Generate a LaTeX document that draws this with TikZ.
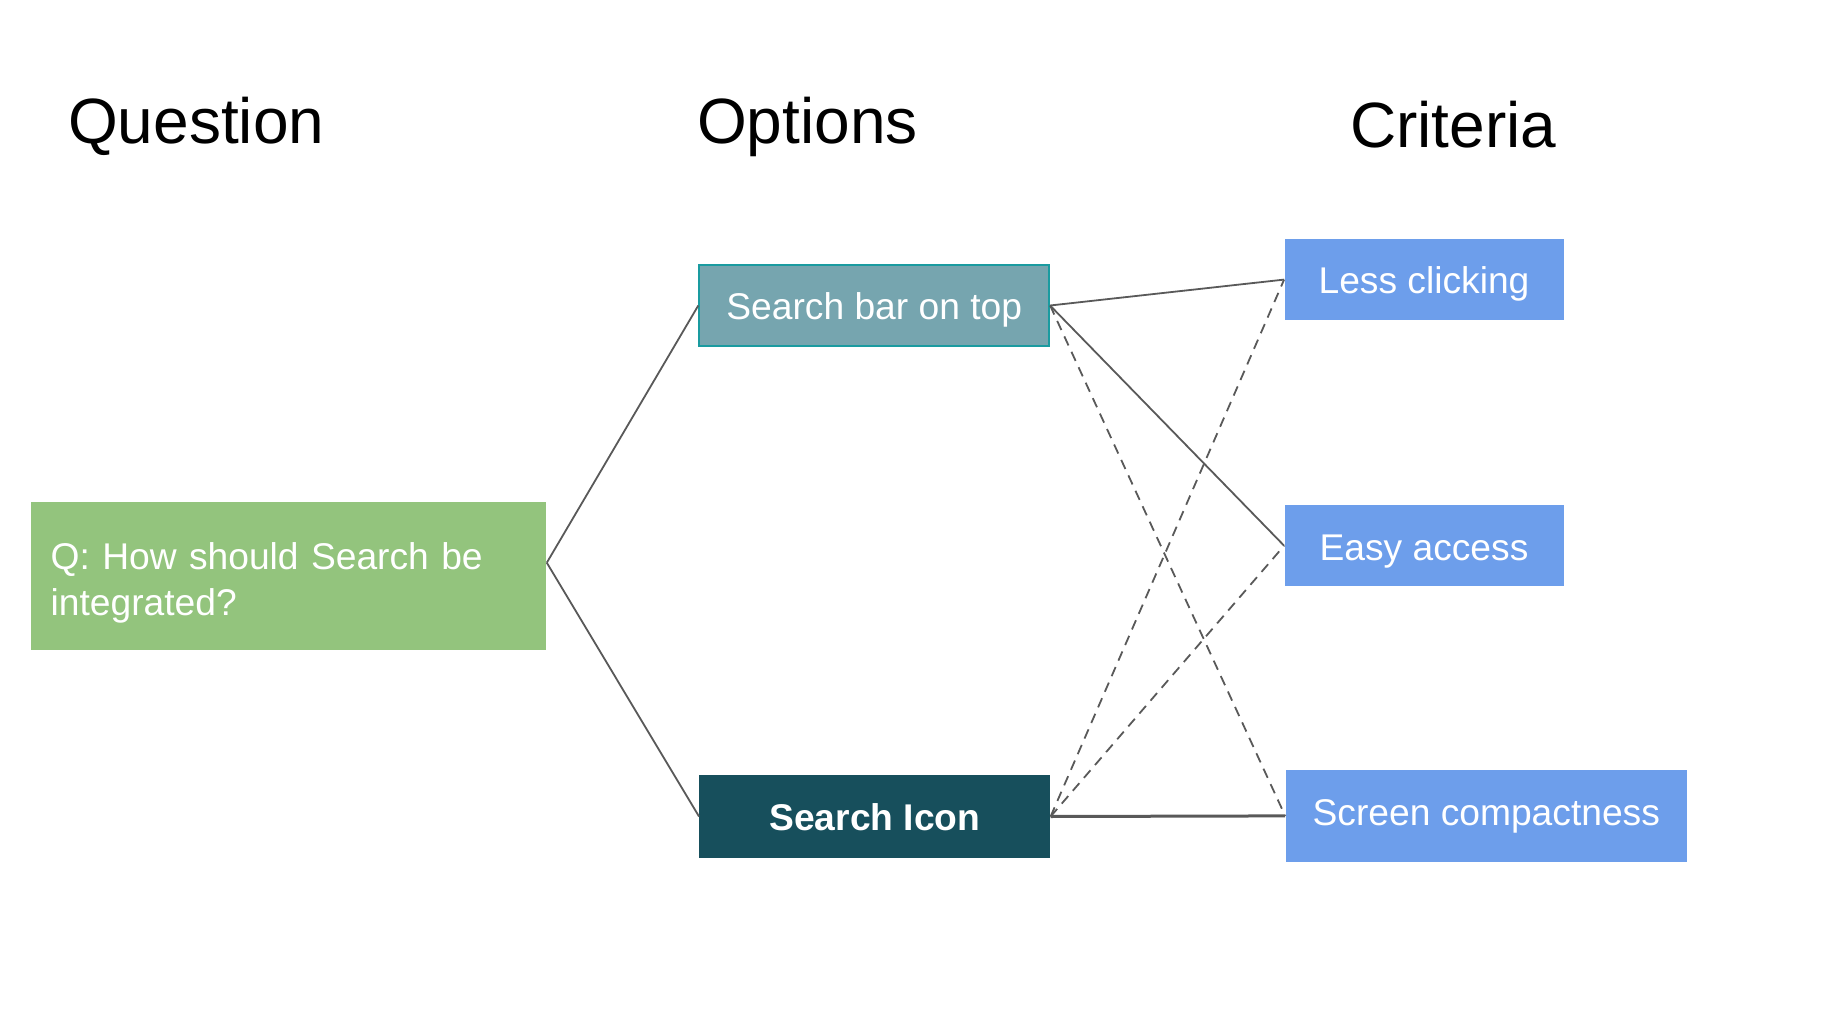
\documentclass[tikz,border=0pt]{standalone}
\usepackage{fontspec}
\setmainfont{Liberation Sans}
\definecolor{qgreen}{HTML}{93C47D}
\definecolor{barfill}{HTML}{76A5AF}
\definecolor{barline}{HTML}{1A9BA0}
\definecolor{iconfill}{HTML}{174F5C}
\definecolor{critblue}{HTML}{6D9EEB}
\definecolor{linkgray}{HTML}{595959}
\begin{document}
\begin{tikzpicture}[x=0.5pt, y=-0.5pt,
    heading/.style={anchor=base west, font=\fontsize{32}{38}\selectfont},
    boxtext/.style={text=white, inner sep=0pt, text height=16.4pt, text depth=2pt, font=\fontsize{18.6}{23}\selectfont},
    critbox/.style={boxtext, fill=critblue, minimum height=40.6pt},
    link/.style={draw=linkgray, line width=0.9pt},
    altlink/.style={link, dash pattern=on 5pt off 3.5pt}]
			\useasboundingbox (0,0) rectangle (1846,1026);
			\node[heading] (hq) at (61,144) {Question};
			\node[heading] (ho) at (690,144) {Options};
			\node[heading] (hc) at (1343,148) {Criteria};

			\node[boxtext, fill=qgreen, minimum width=257.9pt, minimum height=74.2pt, text width=237.9pt, text height=20.6pt, text depth=26.9pt, inner xsep=10pt, align=left] (q) at (288.5,575.7) {Q: How should Search be integrated?};
			\node[boxtext, fill=barfill, draw=barline, line width=1pt, minimum width=174.9pt, minimum height=40.6pt] (bar) at (874.2,305.5) {Search bar on top};
			\node[boxtext, fill=iconfill, minimum width=175.4pt, minimum height=41.8pt, font=\fontsize{18.6}{23}\selectfont\bfseries] (icon) at (874.8,816.5) {Search Icon};
			\node[critbox, minimum width=139.5pt] (less) at (1424,279.6) {Less clicking};
			\node[critbox, minimum width=139.5pt] (easy) at (1424,545.7) {Easy access};
			\node[critbox, minimum width=200.7pt, minimum height=45.9pt, text height=14pt, text depth=4.3pt] (screen) at (1486.3,815.9) {Screen compactness};
			\coordinate (qout) at ([yshift=6.5pt]q.east);

			\path[link] (qout) -- (bar.west);
			\path[link] (qout) -- (icon.west);
			\path[link] (bar.east) -- (less.west);
			\path[link] (bar.east) -- (easy.west);
			\path[altlink] (bar.east) -- (screen.west);
			\path[altlink] (icon.east) -- (less.west);
			\path[altlink] (icon.east) -- (easy.west);
			\path[link, line width=1.5pt] (icon.east) -- (screen.west);
		\end{tikzpicture}
\end{document}
